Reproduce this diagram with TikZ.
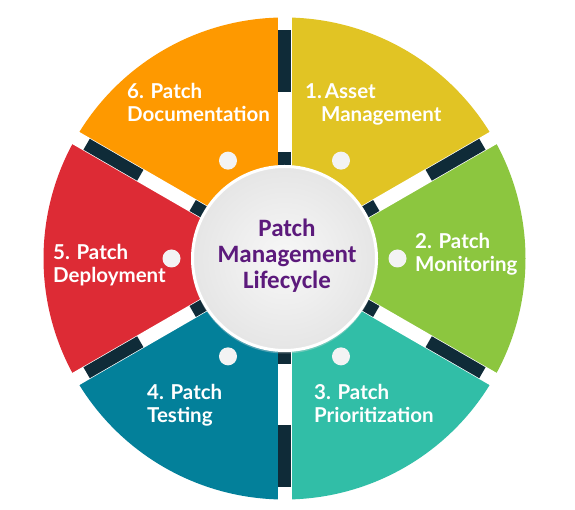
\documentclass[tikz,border=0pt]{standalone}
\usepackage{fontspec}
\setmainfont{Lato}
\newfontfamily\hubfont{Carlito}
\usetikzlibrary{calc}
\definecolor{cYellow}{HTML}{E1C424}
\definecolor{cGreen}{HTML}{8CC63F}
\definecolor{cTeal}{HTML}{31BEA7}
\definecolor{cPetrol}{HTML}{03809A}
\definecolor{cRed}{HTML}{DD2B35}
\definecolor{cOrange}{HTML}{FE9900}
\definecolor{cDark}{HTML}{0F2B38}
\definecolor{cPurple}{HTML}{5C1A7C}
\definecolor{cDot}{HTML}{F3F3F4}
\tikzset{
  seglabel/.style={anchor=base west, align=left, inner sep=0pt, text=white,
    font=\fontsize{20.5}{23}\selectfont\bfseries},
  dot/.style={circle, fill=cDot, minimum size=18pt, inner sep=0pt},
  gapline/.style={white, line width=14pt},
  darkbar/.style={cDark, line width=12.6pt},
}
\begin{document}
\begin{tikzpicture}[x=1pt,y=1pt]
\useasboundingbox (0,0) rectangle (575,510);
\fill[white] (0,0) rectangle (575,510);
\coordinate (C) at (284.5,251.5);
% segments
\foreach \a/\b/\col in {90/30/cYellow, 30/-30/cGreen, -30/-90/cTeal, -90/-150/cPetrol, -150/-210/cRed, 150/90/cOrange}{
  \fill[\col] (C) -- ++(\a:241) arc[start angle=\a, end angle=\b, radius=241] -- cycle;
}
% gaps with dark bars
\foreach \a in {90,30,-30,-90,-150,150}{
  \draw[gapline] (C) -- ($(C)+(\a:250)$);
  \draw[darkbar] ($(C)+(\a:90)$) -- ($(C)+(\a:106)$);
  \draw[darkbar] ($(C)+(\a:166.5)$) -- ($(C)+(\a:228.5)$);
}
% dots
\foreach \a/\n in {60/d1, 0/d2, -60/d3, -120/d4, 180/d5, 120/d6}{
  \node[dot] (\n) at ($(C)+(\a:113)$) {};
}
% hub
\node[circle, minimum size=186pt, inner sep=0pt, fill=black!12, opacity=0.35] (hubshadow) at ($(C)+(0,-2)$) {};
\node[circle, minimum size=184pt, inner sep=0pt, draw=white, line width=3pt,
  inner color=white!97!black, outer color=black!10] (hub) at (C) {};
\node[anchor=base, align=center, inner sep=0pt, text=cPurple,
  font=\hubfont\fontsize{25}{26}\selectfont\bfseries] (title) at (287,221) {Patch\\Management\\Lifecycle};
% labels
\node[seglabel] (l6) at (127,388) {6. Patch\\Documentation};
\node[seglabel] (l1) at (305,388) {1.\kern3pt Asset\\\hspace*{16pt}Management};
\node[seglabel] (l2) at (415,238) {2. Patch\\Monitoring};
\node[seglabel] (l3) at (314,87) {3. Patch\\Prioritization};
\node[seglabel] (l4) at (147,87) {4. Patch\\Testing};
\node[seglabel] (l5) at (53,227) {5. Patch\\Deployment};
\end{tikzpicture}
\end{document}
